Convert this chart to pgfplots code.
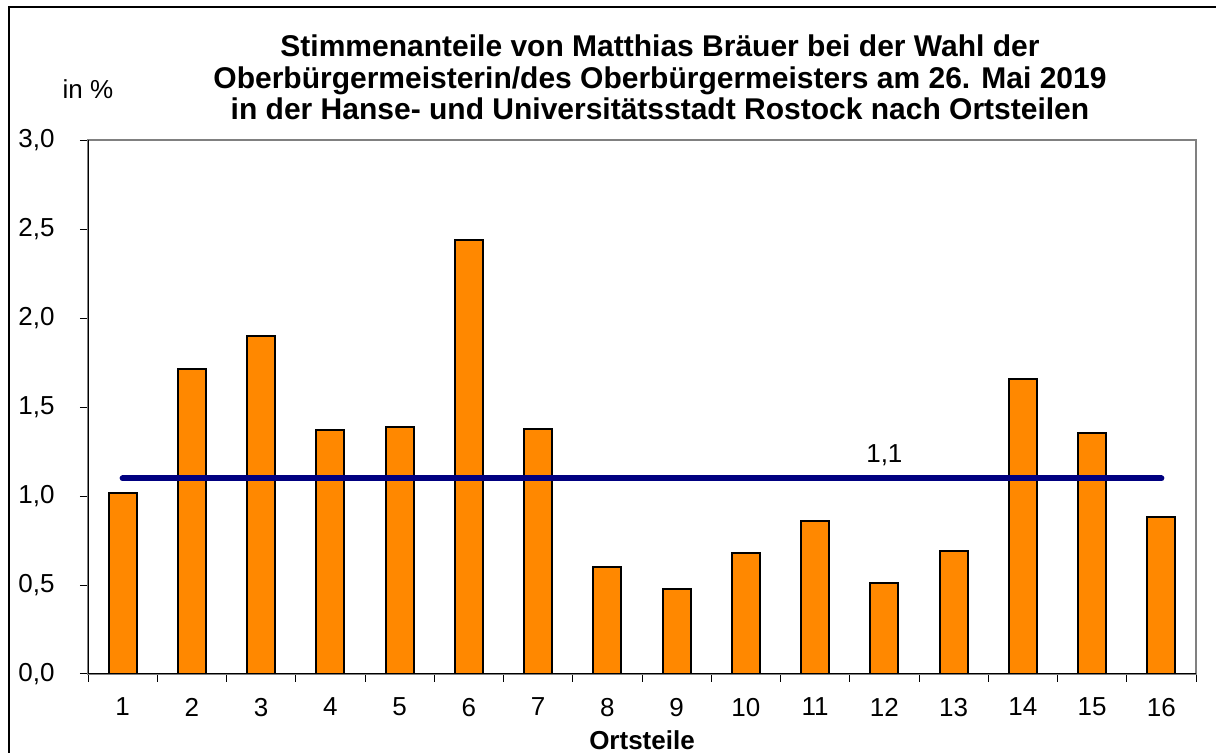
\documentclass[border=0pt]{standalone}
\usepackage{fontspec}
\setmainfont{Liberation Sans}
\usepackage{pgfplots}
\pgfplotsset{compat=1.18}
\definecolor{barorange}{RGB}{255,136,0}
\definecolor{navyline}{RGB}{0,0,128}
\begin{document}
\begin{tikzpicture}
\useasboundingbox (0,0) rectangle (608pt,376.5pt);
\draw[line width=1pt] (4.5pt,-40pt) -- (4.5pt,373pt) -- (700pt,373pt);
\begin{axis}[
  at={(44pt,39.5pt)}, anchor=south west,
  scale only axis, width=554pt, height=266.75pt,
  xmin=0.5, xmax=16.5, ymin=0, ymax=3,
  axis line style={draw=gray, line width=1pt},
  xtick={1,...,16},
  xtick style={draw=none},
  minor xtick={0.5,1.5,...,16.5},
  minor x tick style={draw=black, line width=0.5pt},
  ytick={0,0.5,...,3},
  y tick style={draw=black, line width=0.5pt},
  major tick length=4pt, minor tick length=4pt,
  tick align=outside,
  xtick pos=bottom, ytick pos=left,
  ticklabel style={font=\fontsize{13}{15}\selectfont},
  /pgf/number format/assume math mode=true,
  yticklabel={\pgfmathprintnumber[fixed, fixed zerofill, precision=1, use comma]{\tick}},
  yticklabel style={anchor=east, inner sep=0pt, at={(axis cs:0.5,\tick)}, xshift=-12.5pt},
  xticklabel style={yshift=-4.5pt},
]
\addplot[ybar, bar width=14pt, fill=barorange, draw=black, line width=1pt] coordinates {
(1,1.02) (2,1.715) (3,1.90) (4,1.37) (5,1.39) (6,2.44) (7,1.375) (8,0.60)
(9,0.48) (10,0.68) (11,0.86) (12,0.51) (13,0.69) (14,1.66) (15,1.355) (16,0.88)};
\addplot[navyline, line width=3pt, line cap=round, mark=none] coordinates {(1,1.1) (16,1.1)};
\node[anchor=base, font=\fontsize{13}{15}\selectfont] at (axis cs:12,1.19) {1,1};
\draw[black, line width=0.6pt] (rel axis cs:0,1) -- (rel axis cs:0,0) -- (rel axis cs:1,0);
\end{axis}
\node[anchor=base, font=\fontsize{15}{18}\selectfont\bfseries] at (330pt,348.25pt) {Stimmenanteile von Matthias Bräuer bei der Wahl der};
\node[anchor=base, font=\fontsize{15}{18}\selectfont\bfseries] at (330pt,332.25pt) {Oberbürgermeisterin/des Oberbürgermeisters am 26. Mai 2019};
\node[anchor=base, font=\fontsize{15}{18}\selectfont\bfseries] at (330pt,316.75pt) {in der Hanse- und Universitätsstadt Rostock nach Ortsteilen};
\node[anchor=base, font=\fontsize{13}{15}\selectfont] at (44pt,327pt) {in \%};
\node[anchor=base, inner sep=0pt, font=\fontsize{13}{15}\selectfont\bfseries] at (321pt,1.5pt) {Ortsteile};
\end{tikzpicture}
\end{document}
